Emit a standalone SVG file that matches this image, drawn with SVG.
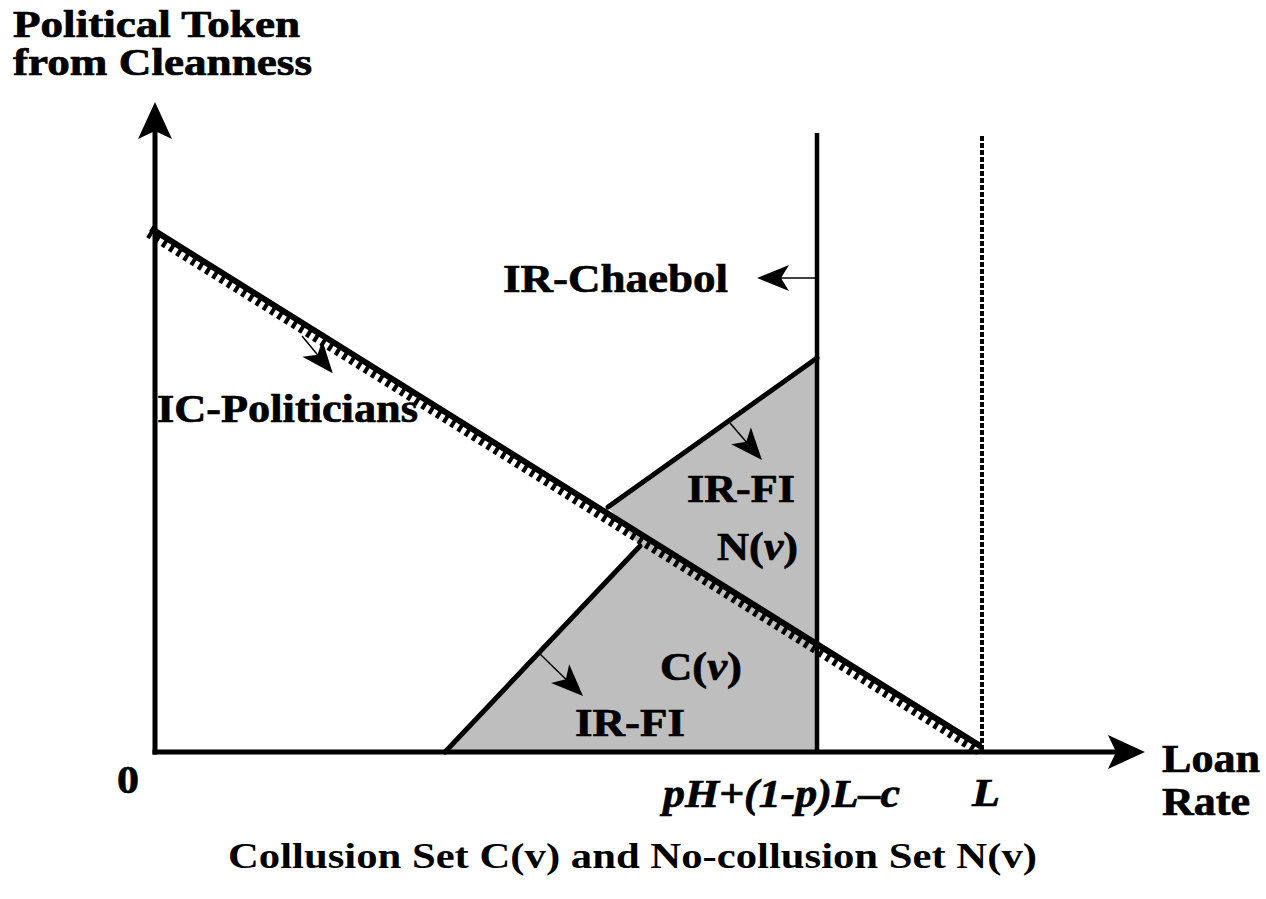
<svg xmlns="http://www.w3.org/2000/svg" width="1266" height="899" viewBox="0 0 1266 899">
<style>
.t{font-family:"Liberation Serif","DejaVu Serif",serif;font-weight:bold;fill:#000}
.lbl{font-size:41px;stroke:#000;stroke-width:0.7}
.ax{stroke:#000;stroke-width:5;fill:none}
.edge{stroke:#000;stroke-width:5;fill:none;stroke-linecap:round}
.thin{stroke:#000;stroke-width:1.5;fill:none}
</style>
<defs>
<marker id="bigHead" markerUnits="userSpaceOnUse" viewBox="-40 -20 42 40" markerWidth="42" markerHeight="40" refX="-28" refY="0" orient="auto">
<path d="M0,0 L-37,-17 L-29,0 L-37,17 Z" fill="#000"/>
</marker>
<marker id="smallHead" markerUnits="userSpaceOnUse" viewBox="-36 -16 38 32" markerWidth="38" markerHeight="32" refX="-20" refY="0" orient="auto">
<path d="M0,0 L-32,-13 L-24,0 L-32,13 Z" fill="#000"/>
</marker>
</defs>
<rect width="1266" height="899" fill="#fff"/>

<g id="region-shading">
<polygon points="445,752 640,546 608,507 817,358 817,752" fill="#bebebe"/>
</g>

<g id="ir-fi-curve">
<line class="edge" x1="445" y1="752" x2="640" y2="546"/>
<line class="edge" x1="608" y1="507" x2="817" y2="358"/>
</g>

<g id="ir-chaebol-line">
<line stroke="#000" stroke-width="4.5" x1="817" y1="133" x2="817" y2="754"/>
</g>

<g id="l-line">
<line stroke="#000" stroke-width="4" stroke-dasharray="5 2" x1="982" y1="136" x2="982" y2="752"/>
</g>

<g id="axes">
<line class="ax" x1="155" y1="754.5" x2="155" y2="130" marker-end="url(#bigHead)"/>
<line class="ax" x1="152.5" y1="752" x2="1117" y2="752" marker-end="url(#bigHead)"/>
</g>

<g id="ic-politicians-line">
<line stroke="#000" stroke-width="6" x1="150.8" y1="228.4" x2="980.8" y2="746.4"/>
<line stroke="#000" stroke-width="9" stroke-dasharray="4 4.5" x1="148.6" y1="233.2" x2="978.6" y2="751.2"/>
</g>

<g id="connectors">
<line class="thin" x1="815" y1="278" x2="777" y2="278" marker-end="url(#smallHead)"/>
<line class="thin" x1="302" y1="336" x2="320" y2="357.8" marker-end="url(#smallHead)"/>
<line class="thin" x1="730" y1="423" x2="748.9" y2="444.9" marker-end="url(#smallHead)"/>
<line class="thin" x1="540" y1="654" x2="568.7" y2="682" marker-end="url(#smallHead)"/>
</g>

<g id="y-axis-label">
<text class="t" x="13" y="37" font-size="37" stroke="#000" stroke-width="0.7" textLength="287" lengthAdjust="spacingAndGlyphs">Political Token</text>
<text class="t" x="13" y="75" font-size="37" stroke="#000" stroke-width="0.7" textLength="299" lengthAdjust="spacingAndGlyphs">from Cleanness</text>
</g>
<g id="label-ir-chaebol">
<text class="t lbl" x="503" y="292" textLength="225" lengthAdjust="spacingAndGlyphs">IR-Chaebol</text>
</g>
<g id="label-ic-politicians">
<text class="t lbl" x="157" y="422" textLength="261" lengthAdjust="spacingAndGlyphs">IC-Politicians</text>
</g>
<g id="label-ir-fi-upper">
<text class="t lbl" x="687" y="502" textLength="108" lengthAdjust="spacingAndGlyphs">IR-FI</text>
</g>
<g id="label-n">
<text class="t lbl" x="717" y="560" textLength="81" lengthAdjust="spacingAndGlyphs">N(<tspan font-style="italic">v</tspan>)</text>
</g>
<g id="label-c">
<text class="t lbl" x="660" y="680" textLength="82" lengthAdjust="spacingAndGlyphs">C(<tspan font-style="italic">v</tspan>)</text>
</g>
<g id="label-ir-fi-lower">
<text class="t lbl" x="575" y="736" textLength="110" lengthAdjust="spacingAndGlyphs">IR-FI</text>
</g>
<g id="label-origin">
<text class="t lbl" x="117" y="793" textLength="22" lengthAdjust="spacingAndGlyphs">0</text>
</g>
<g id="label-threshold">
<text class="t lbl" x="663" y="807" font-style="italic" textLength="237" lengthAdjust="spacingAndGlyphs">pH+(1-p)L–c</text>
</g>
<g id="label-l">
<text class="t lbl" x="972" y="806" font-style="italic" textLength="28" lengthAdjust="spacingAndGlyphs">L</text>
</g>
<g id="x-axis-label">
<text class="t lbl" x="1162" y="772" textLength="98" lengthAdjust="spacingAndGlyphs">Loan</text>
<text class="t lbl" x="1162" y="815" textLength="88" lengthAdjust="spacingAndGlyphs">Rate</text>
</g>
<g id="caption">
<text class="t" x="228" y="868" font-size="36" textLength="809" lengthAdjust="spacingAndGlyphs">Collusion Set C(v) and No-collusion Set N(v)</text>
</g>
</svg>
